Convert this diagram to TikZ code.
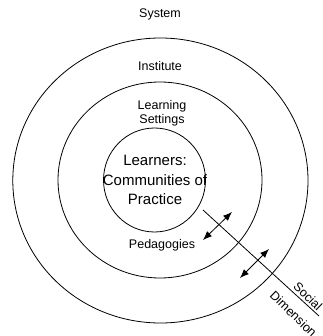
\documentclass[tikz,border=0pt]{standalone}
\usepackage{fontspec}
\setmainfont{Liberation Sans}
\usetikzlibrary{arrows.meta}

\tikzset{
    lbl/.style={font=\fontsize{12.5}{14}\selectfont, align=center, inner sep=0pt},
    biglbl/.style={font=\fontsize{15}{19.5}\selectfont, align=center, inner sep=0pt},
    dimarrow/.style={{Latex[length=9pt,width=7pt]}-{Latex[length=9pt,width=7pt]}, line width=0.8pt}
}

\begin{document}
\begin{tikzpicture}[x=1pt, y=-1pt, line width=0.8pt]
        \useasboundingbox (0,0) rectangle (322,336);

        % rings
        \draw (160.4, 180.5) ellipse (147.6 and 142.5);
        \draw (160, 180) ellipse (102 and 98);
        \draw (154.5, 180) ellipse (51 and 52);

        % labels
        \node[lbl] (system) at (160, 14) {System};
        \node[lbl] (institute) at (160, 66) {Institute};
        \node[lbl] (settings) at (162, 113) {Learning\\Settings};
        \node[biglbl] (learners) at (155, 180) {Learners:\\Communities of\\Practice};
        \node[lbl] (pedagogies) at (162, 245) {Pedagogies};

        % social dimension
        \coordinate (sdstart) at (203, 210);
        \coordinate (sdend) at (319, 316);
        \draw (sdstart) -- (sdend);
        \node[lbl, rotate=-44] (social) at (308, 296.5) {Social};
        \node[lbl, rotate=-44] (dimension) at (293.5, 314) {Dimension};

        \coordinate (a1) at (203, 240);
        \coordinate (b1) at (232, 212);
        \coordinate (a2) at (240, 278);
        \coordinate (b2) at (269, 249);
        \draw[dimarrow] (a1) -- (b1);
        \draw[dimarrow] (a2) -- (b2);
    \end{tikzpicture}
\end{document}
